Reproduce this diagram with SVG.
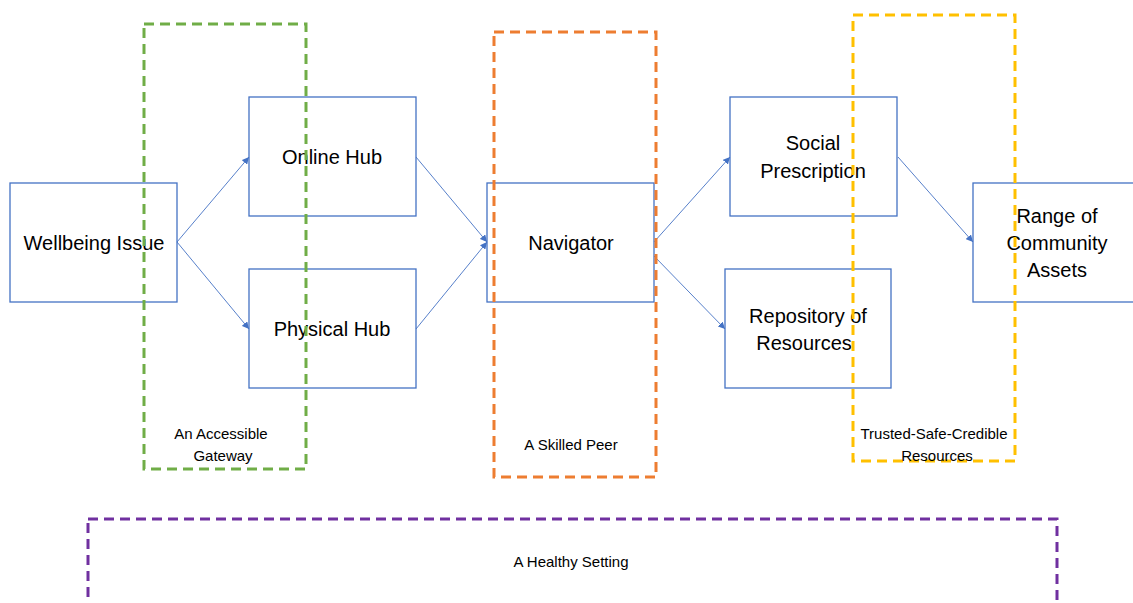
<svg xmlns="http://www.w3.org/2000/svg" width="1133" height="603" viewBox="0 0 1133 603">
<style>
.box{fill:#ffffff;stroke:#4472C4;stroke-width:1.3}
.t{font-family:"Liberation Sans",Arial,sans-serif;font-size:20px;fill:#000;text-anchor:middle}
.s{font-family:"Liberation Sans",Arial,sans-serif;font-size:15px;fill:#000;text-anchor:middle}
.c{stroke:#4472C4;stroke-width:0.9;fill:none;marker-end:url(#ah)}
.d{fill:none;stroke-width:3;stroke-dasharray:10 6}
</style>
<defs>
<marker id="ah" viewBox="0 0 10 10" refX="10" refY="5" markerWidth="7" markerHeight="7" orient="auto" markerUnits="userSpaceOnUse">
<path d="M0,0 L10,5 L0,10 z" fill="#4472C4"/>
</marker>
</defs>
<g id="wellbeing"><rect class="box" x="10" y="183" width="167" height="119"/><text class="t" x="94" y="250">Wellbeing Issue</text></g>
<g id="online"><rect class="box" x="249" y="97" width="167" height="119"/><text class="t" x="332" y="164">Online Hub</text></g>
<g id="physical"><rect class="box" x="249" y="269" width="167" height="119"/><text class="t" x="332" y="336">Physical Hub</text></g>
<g id="navigator"><rect class="box" x="487" y="183" width="167" height="119"/><text class="t" x="571" y="250">Navigator</text></g>
<g id="social"><rect class="box" x="730" y="97" width="167" height="119"/><text class="t" x="813" y="150">Social</text><text class="t" x="813" y="178">Prescription</text></g>
<g id="repository"><rect class="box" x="725" y="269" width="166" height="119"/><text class="t" x="808" y="323">Repository of</text><text class="t" x="804" y="350">Resources</text></g>
<g id="range"><rect class="box" x="973" y="183" width="170" height="119"/><text class="t" x="1057" y="223">Range of</text><text class="t" x="1057" y="250">Community</text><text class="t" x="1057" y="277">Assets</text></g>
<g id="connectors">
<line class="c" x1="177" y1="242" x2="249" y2="157"/>
<line class="c" x1="177" y1="242" x2="249" y2="329"/>
<line class="c" x1="416" y1="157" x2="487" y2="242"/>
<line class="c" x1="416" y1="329" x2="487" y2="242"/>
<line class="c" x1="654" y1="242" x2="730" y2="157"/>
<line class="c" x1="654" y1="256" x2="725" y2="329"/>
<line class="c" x1="898" y1="157" x2="973" y2="242"/>
</g>
<g id="gateway"><rect class="d" x="144" y="24" width="162" height="445" stroke="#70AD47"/><text class="s" x="221" y="439">An Accessible</text><text class="s" x="223" y="461">Gateway</text></g>
<g id="peer"><rect class="d" x="494" y="32" width="162" height="445" stroke="#ED7D31"/><text class="s" x="571" y="450">A Skilled Peer</text></g>
<g id="trusted"><rect class="d" x="853" y="15" width="162" height="446" stroke="#FFC000"/><text class="s" x="934" y="439">Trusted-Safe-Credible</text><text class="s" x="937" y="461">Resources</text></g>
<g id="setting"><rect class="d" x="88" y="519" width="969" height="110" stroke="#7030A0"/><text class="s" x="571" y="567">A Healthy Setting</text></g>
</svg>
